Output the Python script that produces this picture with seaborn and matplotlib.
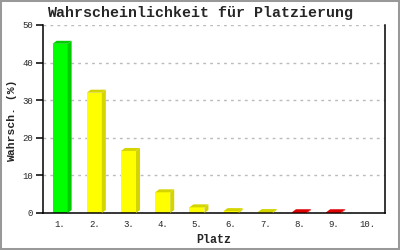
import matplotlib
matplotlib.use("Agg")
import matplotlib.pyplot as plt
from matplotlib.transforms import IdentityTransform
from matplotlib.patches import Rectangle, Polygon
import seaborn as sns
import pandas as pd

# ---- data ----
places = ["1.", "2.", "3.", "4.", "5.", "6.", "7.", "8.", "9.", "10."]
probs = [45.0, 32.0, 16.5, 5.5, 1.5, 0.5, 0.25, 0.2, 0.2, 0.0]
front_colors = ["#00ff00", "#ffff00", "#ffff00", "#ffff00", "#ffff00",
                "#ffff00", "#ffff00", "#ee0000", "#ee0000", "#ee0000"]
side_colors = ["#00cc00", "#d4d400", "#d4d400", "#d4d400", "#d4d400",
               "#d4d400", "#d4d400", "#dd0000", "#dd0000", "#dd0000"]
y_ticks = [0, 10, 20, 30, 40, 50]
title = "Wahrscheinlichkeit für Platzierung"
xlabel = "Platz"
ylabel = "Wahrsch. (%)"

df = pd.DataFrame({"Platz": places, "p": probs})

sns.set_style("white")
plt.rcParams["font.family"] = ["Liberation Mono", "DejaVu Sans Mono"]

fig = plt.figure(figsize=(4, 2.5), dpi=100)
ax = fig.add_axes([43 / 400, 1 - 213 / 250, 342 / 400, 188 / 250])

sns.barplot(data=df, x="Platz", y="p", hue="Platz", order=places, hue_order=places,
            palette=front_colors, width=0.44, legend=False, ax=ax, saturation=1)

ax.set_ylim(0, 50)
ax.set_xlim(-0.5, len(places) - 0.5)

# 3D depth faces built from the bars seaborn drew
DX, DY = 4, 3  # pixels
ident = IdentityTransform()
for p, sc in zip(list(ax.patches), side_colors):
    p.set_linewidth(0)
    h = p.get_height()
    if h <= 0:
        continue
    x0, x1 = p.get_x(), p.get_x() + p.get_width()
    (px0, py0), (px1, py1) = ax.transData.transform([(x0, 0), (x1, h)])
    side = Polygon([(px1, py0), (px1 + DX, py0 + DY), (px1 + DX, py1 + DY), (px1, py1)],
                   closed=True, transform=ident, facecolor=sc, edgecolor="none", zorder=p.get_zorder())
    top = Polygon([(px0, py1), (px1, py1), (px1 + DX, py1 + DY), (px0 + DX, py1 + DY)],
                  closed=True, transform=ident, facecolor=sc, edgecolor="none", zorder=p.get_zorder())
    top.set_clip_on(False)
    side.set_clip_on(False)
    fig.add_artist(side)
    fig.add_artist(top)

ax.set_yticks(y_ticks)
ax.set_yticklabels([str(t) for t in y_ticks])
ax.yaxis.grid(True, color="#bbbbbb", linestyle=(0, (2, 3)), linewidth=1)
ax.xaxis.grid(False)
ax.set_axisbelow(True)
ax.set_xlabel("")
ax.set_ylabel("")

for s in ["left", "bottom", "right"]:
    ax.spines[s].set_visible(True)
    ax.spines[s].set_color("black")
    ax.spines[s].set_linewidth(1.1)
    ax.spines[s].set_zorder(5)
ax.spines["top"].set_visible(False)

ax.tick_params(axis="y", direction="out", length=5, width=1.1, color="black",
               labelsize=6.5, pad=2, left=True)
ax.tick_params(axis="x", length=0, labelsize=6.5, pad=5)

fig.text(0.5, 1 - 13 / 250, title, ha="center", va="center",
         fontsize=10.8, fontweight="bold")
fig.text(214 / 400, 1 - 240 / 250, xlabel, ha="center", va="center",
         fontsize=8.4, fontweight="bold")
fig.text(12 / 400, 1 - 121 / 250, ylabel, ha="center", va="center",
         fontsize=8.2, fontweight="bold", rotation=90)

fig.patches.append(Rectangle((0, 0), 1, 1, transform=fig.transFigure,
                             fill=False, edgecolor="#999999", linewidth=2.9))

fig.savefig("out.png", dpi=100)
